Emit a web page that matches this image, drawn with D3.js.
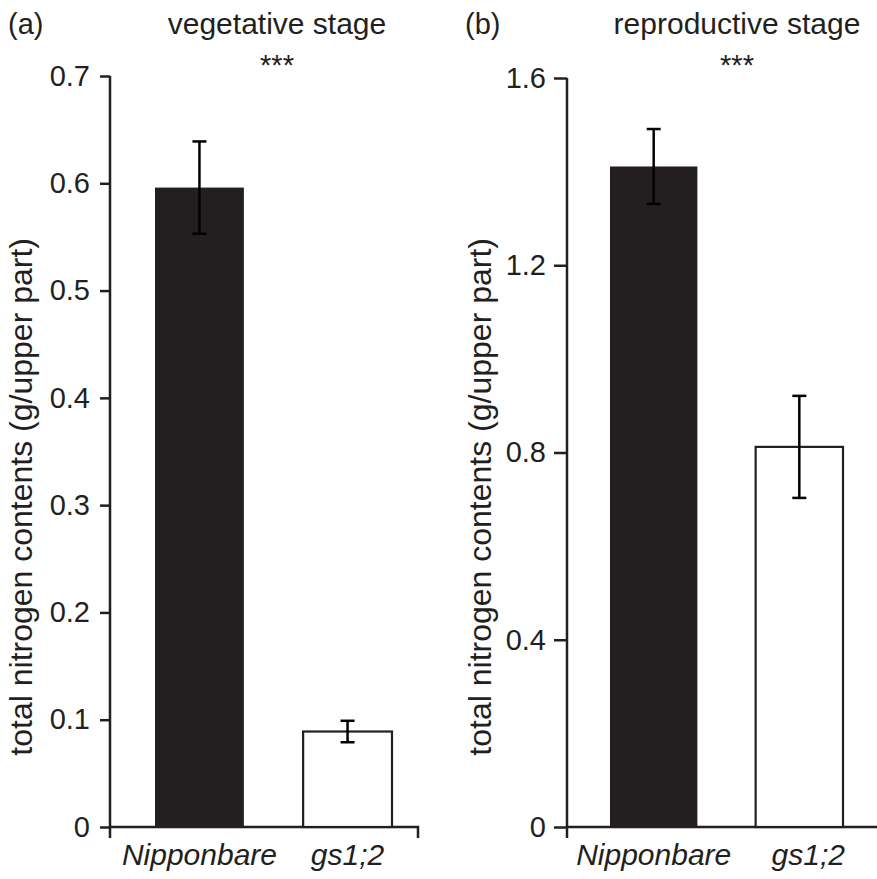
<!DOCTYPE html>
<html>
<head>
<meta charset="utf-8">
<script src="https://cdn.jsdelivr.net/npm/d3@7"></script>
<style>
  body { margin: 0; background: #fff; }
  svg text { font-family: "Liberation Sans", Arial, Helvetica, sans-serif; fill: #231f20; }
  .axis path, .axis line { stroke: #231f20; stroke-width: 2.5; }
</style>
</head>
<body>
<div id="chart"></div>
<script>
// data
var categories = ["Nipponbare", "gs1;2"];
var vegetativeMean = [0.596, 0.089];
var vegetativeErr = [0.043, 0.010];
var reproductiveMean = [1.411, 0.812];
var reproductiveErr = [0.080, 0.109];
var vegetativeTicks = [0, 0.1, 0.2, 0.3, 0.4, 0.5, 0.6, 0.7];
var reproductiveTicks = [0, 0.4, 0.8, 1.2, 1.6];

var svg = d3.select("#chart").append("svg")
    .attr("width", 877)
    .attr("height", 879);

function drawPanel(opt) {
    var g = svg.append("g");

    var yScale = d3.scaleLinear()
        .domain([0, opt.ticks[opt.ticks.length - 1]])
        .range([827, opt.yTop]);

    var xScale = d3.scaleBand()
        .domain(categories)
        .range(opt.barRange)
        .paddingInner(0.4)
        .paddingOuter(0);

    var data = categories.map(function(c, i) {
        return {name: c, value: opt.mean[i], err: opt.err[i], fill: i === 0 ? "#231f20" : "#fff"};
    });

    // Y axis
    var yAxis = d3.axisLeft(yScale)
        .tickValues(opt.ticks)
        .tickFormat(function(d) { return d === 0 ? "0" : d3.format(".1f")(d); })
        .tickSize(opt.tickLen)
        .tickSizeOuter(0)
        .tickPadding(opt.tickPad);

    var ya = g.append("g")
        .attr("class", "axis")
        .attr("transform", "translate(" + opt.axisX + ",0)")
        .call(yAxis);
    ya.select(".domain").remove();
    ya.selectAll("text").style("font-size", "29px");

    // vertical axis line, continued below the baseline
    g.append("line")
        .attr("x1", opt.axisX).attr("x2", opt.axisX)
        .attr("y1", yScale.range()[1]).attr("y2", 838)
        .attr("stroke", "#231f20").attr("stroke-width", 2.5);

    // x axis line with end tick
    g.append("path")
        .attr("d", "M" + opt.axisX + ",827H" + opt.axisEnd + "V838")
        .attr("fill", "none")
        .attr("stroke", "#231f20").attr("stroke-width", 2.5);

    // bars
    g.selectAll("rect.bar")
        .data(data)
        .enter()
        .append("rect")
        .attr("class", "bar")
        .attr("x", function(d) { return xScale(d.name); })
        .attr("y", function(d) { return yScale(d.value); })
        .attr("width", xScale.bandwidth())
        .attr("height", function(d) { return yScale(0) - yScale(d.value); })
        .attr("fill", function(d) { return d.fill; })
        .attr("stroke", "#231f20")
        .attr("stroke-width", function(d, i) { return i === 0 ? 0 : 2.2; });

    // error bars
    var cx = function(d) { return xScale(d.name) + xScale.bandwidth() / 2; };
    var eb = g.selectAll("g.err")
        .data(data)
        .enter()
        .append("g")
        .attr("class", "err")
        .attr("stroke", "#000")
        .attr("stroke-width", 2.5);
    eb.append("line")
        .attr("x1", cx).attr("x2", cx)
        .attr("y1", function(d) { return yScale(d.value + d.err); })
        .attr("y2", function(d) { return yScale(d.value - d.err); });
    eb.append("line")
        .attr("x1", function(d) { return cx(d) - 7; })
        .attr("x2", function(d) { return cx(d) + 7; })
        .attr("y1", function(d) { return yScale(d.value + d.err); })
        .attr("y2", function(d) { return yScale(d.value + d.err); });
    eb.append("line")
        .attr("x1", function(d) { return cx(d) - 7; })
        .attr("x2", function(d) { return cx(d) + 7; })
        .attr("y1", function(d) { return yScale(d.value - d.err); })
        .attr("y2", function(d) { return yScale(d.value - d.err); });

    // category labels
    g.selectAll("text.cat")
        .data(data)
        .enter()
        .append("text")
        .attr("class", "cat")
        .attr("x", function(d, i) { return cx(d) + opt.labelShift[i]; })
        .attr("y", 865)
        .style("text-anchor", "middle")
        .style("font-size", "30px")
        .style("font-style", "italic")
        .text(function(d) { return d.name; });

    // y label
    g.append("text")
        .attr("transform", "translate(" + opt.labelX + ",238) rotate(-90)")
        .style("text-anchor", "end")
        .style("font-size", "32px")
        .text("total nitrogen contents (g/upper part)");

    // panel letter and title
    g.append("text")
        .attr("x", opt.letterX)
        .attr("y", 34)
        .style("font-size", "29px")
        .text(opt.letter);

    g.append("text")
        .attr("x", opt.titleX)
        .attr("y", 34)
        .style("text-anchor", "middle")
        .style("font-size", "30px")
        .text(opt.title);

    g.append("text")
        .attr("x", opt.titleX)
        .attr("y", 75)
        .style("text-anchor", "middle")
        .style("font-size", "29px")
        .text("***");
}

drawPanel({
    mean: vegetativeMean, err: vegetativeErr, ticks: vegetativeTicks,
    yTop: 76, axisX: 110, axisEnd: 418, barRange: [155, 392],
    tickLen: 10, tickPad: 10, labelX: 32, labelShift: [0, 0],
    letter: "(a)", letterX: 8, title: "vegetative stage", titleX: 277
});

drawPanel({
    mean: reproductiveMean, err: reproductiveErr, ticks: reproductiveTicks,
    yTop: 78, axisX: 567, axisEnd: 885, barRange: [610, 843],
    tickLen: 13, tickPad: 8, labelX: 491, labelShift: [0, 9],
    letter: "(b)", letterX: 465, title: "reproductive stage", titleX: 737
});
</script>
</body>
</html>
